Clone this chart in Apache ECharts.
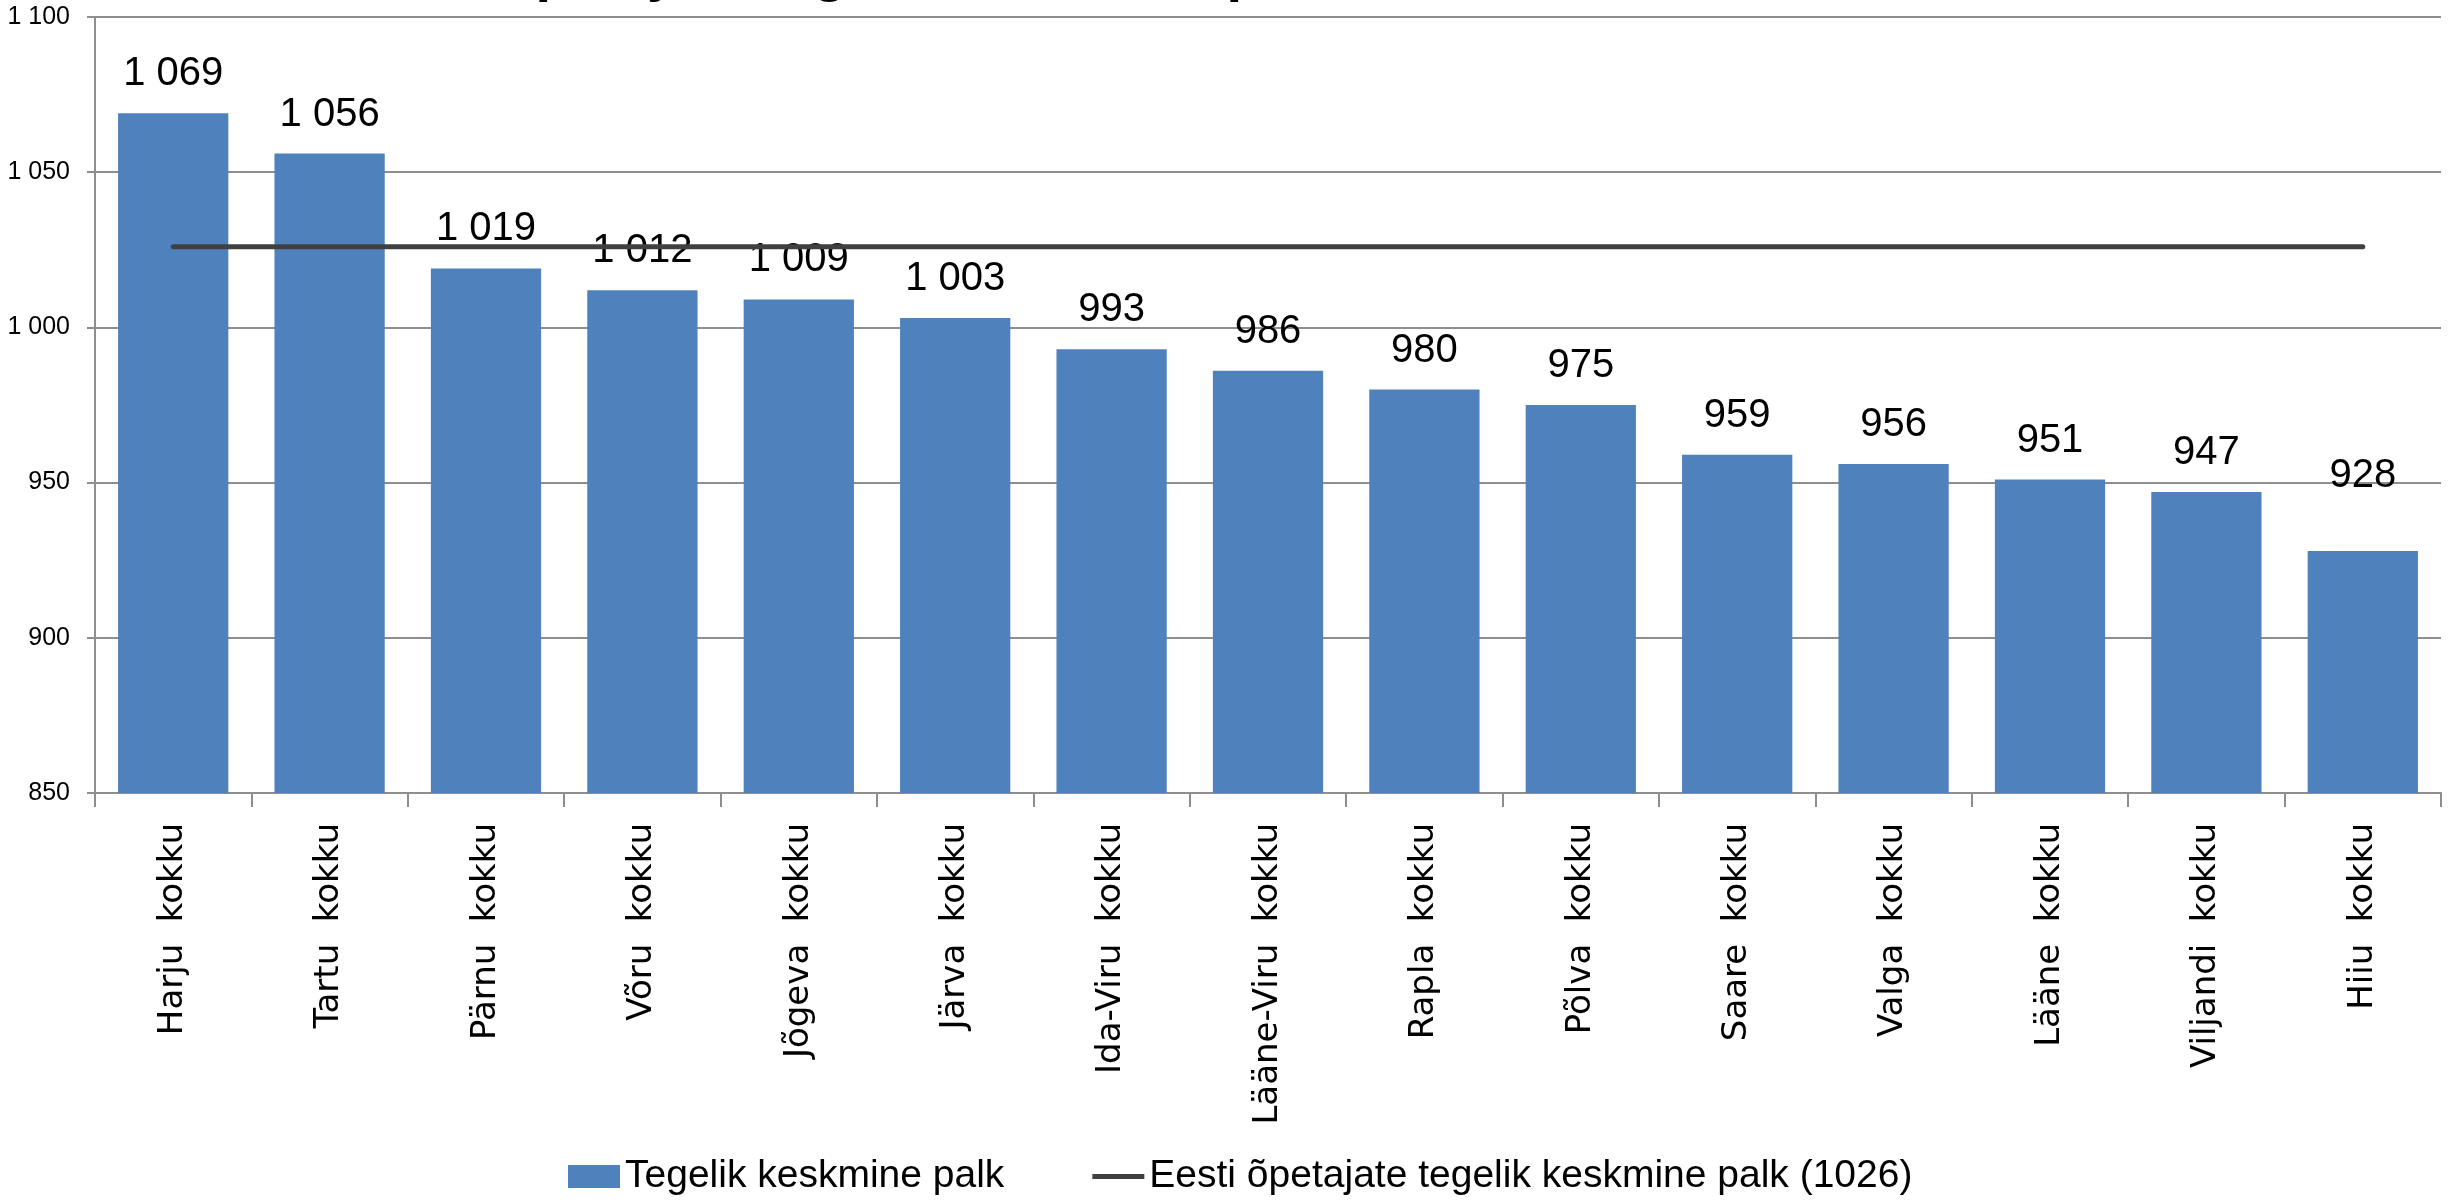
<!DOCTYPE html>
<html>
<head>
<meta charset="utf-8">
<script src="https://cdn.jsdelivr.net/npm/echarts@6/dist/echarts.min.js"></script>
<style>
html,body{margin:0;padding:0;background:#fff;}
#chart{width:2458px;height:1202px;}
</style>
</head>
<body>
<div id="chart"></div>
<script>
const titleText = 'Õpetajate tegelik keskmine palk';
const categories = ['Harju  kokku','Tartu  kokku','Pärnu  kokku','Võru  kokku','Jõgeva  kokku','Järva  kokku','Ida-Viru  kokku','Lääne-Viru  kokku','Rapla  kokku','Põlva  kokku','Saare  kokku','Valga  kokku','Lääne  kokku','Viljandi  kokku','Hiiu  kokku'];
const actualPay = [1069,1056,1019,1012,1009,1003,993,986,980,975,959,956,951,947,928];
const estoniaAverage = [1026,1026,1026,1026,1026,1026,1026,1026,1026,1026,1026,1026,1026,1026,1026];
const barName = 'Tegelik keskmine palk';
const lineName = 'Eesti õpetajate tegelik keskmine palk (1026)';
const yMin = 850, yMax = 1100, yStep = 50;

function fmt(v){
  return String(v).replace(/\B(?=(\d{3})+(?!\d))/g, ' ');
}

const chart = echarts.init(document.getElementById('chart'), null, {renderer:'canvas'});
const gridColor = '#8e8e8e';

const barData = actualPay.map((v, i) => {
  const item = {value: v};
  if (i === categories.length - 1) item.label = {offset: [0, -36]};
  return item;
});

chart.setOption({
  animation: false,
  backgroundColor: '#ffffff',
  graphic: [{
    type: 'text',
    left: 492,
    top: -53,
    silent: true,
    style: {
      text: titleText,
      fill: '#000',
      font: 'bold 56px "Liberation Sans"'
    }
  }],
  grid: {left: 95, right: 17, top: 17, bottom: 409, containLabel: false},
  legend: {
    left: 563,
    top: 1152,
    itemGap: 88,
    itemWidth: 52,
    itemHeight: 23,
    textStyle: {fontFamily: 'Liberation Sans', fontSize: 39, color: '#000'},
    data: [
      {name: barName, icon: 'rect'},
      {name: lineName, icon: 'path://M0,0 M0,9 L52,9 L52,14 L0,14 Z M52,23'}
    ]
  },
  xAxis: {
    type: 'category',
    data: categories,
    boundaryGap: true,
    axisLine: {show: true, lineStyle: {color: gridColor, width: 2}},
    axisTick: {show: true, alignWithLabel: false, length: 14, lineStyle: {color: gridColor, width: 2}},
    axisLabel: {
      interval: 0,
      rotate: 90,
      margin: 30,
      fontFamily: 'DejaVu Sans',
      fontSize: 34,
      color: '#000'
    }
  },
  yAxis: {
    type: 'value',
    min: yMin,
    max: yMax,
    interval: yStep,
    axisLine: {show: true, lineStyle: {color: gridColor, width: 2}},
    axisTick: {show: true, length: 8, lineStyle: {color: gridColor, width: 2}},
    splitLine: {show: true, lineStyle: {color: gridColor, width: 2}},
    axisLabel: {
      margin: 25,
      fontFamily: 'Liberation Sans',
      fontSize: 25,
      color: '#000',
      formatter: v => fmt(v)
    }
  },
  series: [
    {
      name: barName,
      type: 'bar',
      data: barData,
      barCategoryGap: '29.5%',
      itemStyle: {color: '#4f81bd'},
      label: {
        show: true,
        position: 'top',
        distance: 19,
        fontFamily: 'Liberation Sans',
        fontSize: 40,
        color: '#000',
        formatter: p => fmt(p.value)
      },
      z: 2
    },
    {
      name: lineName,
      type: 'line',
      data: estoniaAverage,
      symbol: 'none',
      showSymbol: false,
      lineStyle: {color: '#404040', width: 5, cap: 'round'},
      itemStyle: {color: '#404040'},
      z: 3
    }
  ]
});
</script>
</body>
</html>
